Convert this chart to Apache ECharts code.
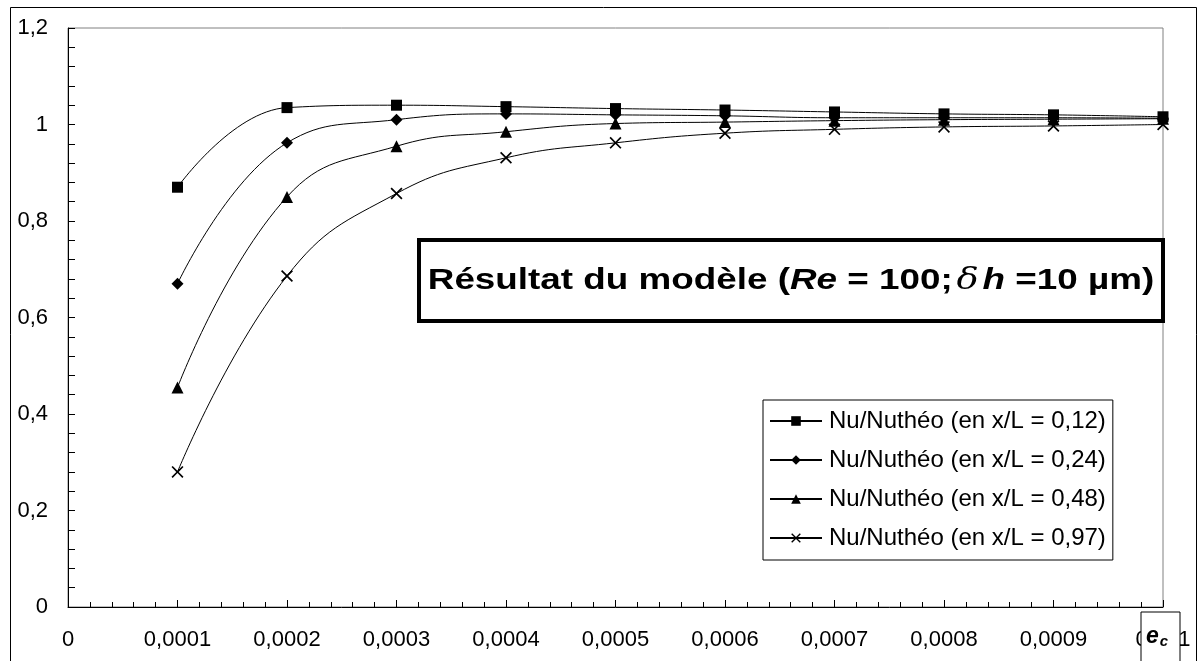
<!DOCTYPE html>
<html><head><meta charset="utf-8">
<script src="https://cdn.jsdelivr.net/npm/echarts@6/dist/echarts.min.js"></script>
<style>html,body{margin:0;padding:0;background:#fff}#c{width:1198px;height:661px}</style>
</head><body><div id="c"></div>
<script>
const xValues = [0.0001, 0.0002, 0.0003, 0.0004, 0.0005, 0.0006, 0.0007, 0.0008, 0.0009, 0.001];
const seriesNames = [
  'Nu/Nuthéo (en x/L = 0,12)',
  'Nu/Nuthéo (en x/L = 0,24)',
  'Nu/Nuthéo (en x/L = 0,48)',
  'Nu/Nuthéo (en x/L = 0,97)'
];
const s012 = [0.87, 1.035, 1.04, 1.037, 1.033, 1.03, 1.026, 1.022, 1.02, 1.016];
const s024 = [0.67, 0.962, 1.01, 1.022, 1.02, 1.018, 1.014, 1.014, 1.014, 1.013];
const s048 = [0.455, 0.85, 0.955, 0.985, 1.002, 1.005, 1.008, 1.01, 1.011, 1.012];
const s097 = [0.28, 0.686, 0.857, 0.931, 0.962, 0.982, 0.99, 0.995, 0.997, 1.0];
const titleParts = ['Résultat du modèle (', 'Re', ' = 100;', 'δ', 'h', ' =10 µm)'];
const xAxisName = ['e', 'c'];

const FONT = 'Liberation Sans, Arial, sans-serif';
const crossPath = 'path://M0,1L1,0L5,4L9,0L10,1L6,5L10,9L9,10L5,6L1,10L0,9L4,5Z';
const symbols = ['rect', 'diamond', 'triangle', crossPath];
const sizes = [11, 12, 12, 12];
const data = [s012, s024, s048, s097];

function fmt(v){
  if (Math.abs(v) < 1e-12) return '0';
  return String(parseFloat(v.toFixed(4))).replace('.', ',');
}

const chart = echarts.init(document.getElementById('c'), null, {renderer:'canvas'});
chart.setOption({
  animation: false,
  backgroundColor: '#fff',
  grid: {left: 68, top: 28, right: 35, bottom: 54, show: true, borderColor: '#808080', borderWidth: 1},
  xAxis: {
    type: 'value', min: 0, max: 0.001, interval: 0.0001,
    axisLine: {lineStyle: {color: '#000', width: 1}},
    axisTick: {inside: true, length: 7, lineStyle: {color: '#000'}},
    minorTick: {show: true, splitNumber: 5, length: 5, lineStyle: {color: '#000'}},
    splitLine: {show: false},
    axisLabel: {formatter: fmt, color: '#000', fontFamily: FONT, fontSize: 22, margin: 22}
  },
  yAxis: {
    type: 'value', min: 0, max: 1.2, interval: 0.2,
    axisLine: {show: true, lineStyle: {color: '#000', width: 1}},
    axisTick: {show: true, inside: true, length: 7, lineStyle: {color: '#000'}},
    minorTick: {show: true, splitNumber: 5, length: 7, lineStyle: {color: '#000'}},
    splitLine: {show: false},
    axisLabel: {formatter: fmt, color: '#000', fontFamily: FONT, fontSize: 22, margin: 20}
  },
  legend: {
    orient: 'vertical', left: 763, top: 400,
    padding: [9, 7, 10, 6],
    itemWidth: 52, itemHeight: 12, itemGap: 15,
    borderColor: '#000', borderWidth: 1, backgroundColor: '#fff',
    textStyle: {color: '#000', fontFamily: FONT, fontSize: 24, padding: [0, 0, 0, 2]},
    data: seriesNames
  },
  series: seriesNames.map((n, i) => ({
    name: n, type: 'line', smooth: 0.45,
    data: xValues.map((x, j) => [x, data[i][j]]),
    symbol: symbols[i], symbolSize: sizes[i],
    lineStyle: {color: '#000', width: 1},
    itemStyle: {color: '#000'},
    z: 3
  })),
  graphic: [
    {type: 'rect', left: 8, top: 5, shape: {width: 1186, height: 660}, silent: true,
     style: {fill: 'none', stroke: '#000', lineWidth: 1}, z: -1},
    {type: 'rect', shape: {x: 419, y: 240, width: 744, height: 81}, z: 10,
     style: {fill: '#fff', stroke: '#000', lineWidth: 4}},
    {type: 'text', x: 791, y: 281, z: 11, scaleX: 1.27, scaleY: 1,
     style: {
       text: '{b|' + titleParts[0] + '}{i|' + titleParts[1] + '}{b|' + titleParts[2] + '}{d|' + titleParts[3] + '}{i|' + titleParts[4] + '}{b|' + titleParts[5] + '}',
       align: 'center', verticalAlign: 'middle',
       rich: {
         b: {fontFamily: FONT, fontWeight: 'bold', fontSize: 29, fill: '#000'},
         i: {fontFamily: FONT, fontWeight: 'bold', fontStyle: 'italic', fontSize: 29, fill: '#000'},
         d: {fontFamily: 'DejaVu Serif, serif', fontStyle: 'italic', fontSize: 29, fill: '#000', padding: [0, 3, 0, 3]}
       }
     }},
    {type: 'rect', shape: {x: 1141, y: 612, width: 39, height: 52}, z: 10,
     style: {fill: '#fff', stroke: '#000', lineWidth: 1}},
    {type: 'text', x: 1157, y: 637, z: 11,
     style: {
       text: '{e|' + xAxisName[0] + '}{c|' + xAxisName[1] + '}', align: 'center', verticalAlign: 'middle',
       rich: {
         e: {fontFamily: FONT, fontWeight: 'bold', fontStyle: 'italic', fontSize: 23, fill: '#000'},
         c: {fontFamily: FONT, fontWeight: 'bold', fontStyle: 'italic', fontSize: 15, fill: '#000', padding: [9, 0, 0, 1]}
       }
     }}
  ]
});
</script>
</body></html>
